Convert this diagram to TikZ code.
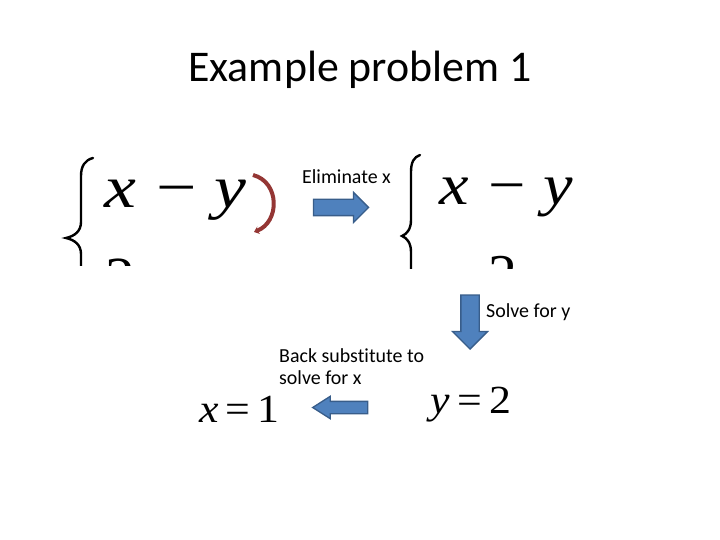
\documentclass[tikz,border=0pt]{standalone}
\usepackage{fontspec}
\setmainfont{Carlito}[Ligatures=NoCommon]
\newfontfamily\eqfont{Liberation Serif}
\usetikzlibrary{arrows.meta,shapes.arrows}
\definecolor{ArrBlue}{HTML}{4F81BD}
\definecolor{ArrEdge}{HTML}{385D8A}
\definecolor{ArcRed}{HTML}{943634}
\newcommand{\xminusy}{\textit{x}\hspace{17bp}−\hspace{15bp}\textit{y}}

\begin{document}
\begin{tikzpicture}[x=1bp,y=-1bp,
  every node/.style={inner sep=0pt},
  note/.style={font=\fontsize{20}{23}\selectfont, anchor=base west},
  eqn/.style={anchor=base west},
  blockarr/.style={single arrow, draw=ArrEdge, fill=ArrBlue, line width=1.3bp,
                   inner xsep=0pt},
  bracepath/.style={line width=2.4bp, line cap=round},
  arc/.style={-{Stealth[length=5bp,width=8bp]}, draw=ArcRed, line width=4bp},
]
\useasboundingbox (0,0) rectangle (720,540);

%% - Title -------------------------------------------------------------------
\node[font=\fontsize{44}{53}\selectfont, anchor=base] (title) at (360,82) {Example problem 1};

%% - First system (cut off) --------------------------------------------------
\begin{scope}
  \clip (50,140) rectangle (295,265);
  \draw[bracepath] (93,158) .. controls (85,160) and (81,166) .. (81,176)
    -- (81,222) .. controls (81,231) and (75,236) .. (66,238)
    .. controls (75,240) and (81,245) .. (81,254) -- (81,300);
  \node[eqn, font=\eqfont\fontsize{60}{70}\selectfont, xscale=1.2] (sysa) at (104,208) {\xminusy};
  \node[eqn, font=\eqfont\fontsize{60}{70}\selectfont] (sysarow) at (105,298) {2};
\end{scope}

%% - Red arc -----------------------------------------------------------------
\coordinate (arcs) at (253,175);
\coordinate (arce) at (254,232);
\draw[arc] (arcs) .. controls (280,182) and (280,222) .. (arce);

%% - Second system (cut off) -------------------------------------------------
\begin{scope}
  \clip (395,140) rectangle (600,268);
  \draw[bracepath] (420,155) .. controls (414,157) and (411,162) .. (411,172)
    -- (411,220) .. controls (411,229) and (407,234) .. (402,236)
    .. controls (407,238) and (411,243) .. (411,252) -- (411,300);
  \node[eqn, font=\eqfont\fontsize{58}{68}\selectfont, xscale=1.15] (sysb) at (439,205) {\xminusy};
  \node[eqn, font=\eqfont\fontsize{58}{68}\selectfont] (sysbrow) at (488,294) {2};
\end{scope}

%% - Solutions ---------------------------------------------------------------
\node[eqn, font=\eqfont\fontsize{40}{48}\selectfont, xscale=1.1] (xsol) at (199,422)
  {\textit{x}\,=\,1};
\node[eqn, font=\eqfont\fontsize{40}{48}\selectfont, xscale=1.1] (ysol) at (430,413)
  {\textit{y}\,=\,2};

%% - Block arrows ------------------------------------------------------------
\node[blockarr, inner ysep=7.5bp, single arrow head extend=7bp,
      minimum height=55bp] (rarr) at (337,207.5) {};
\node[blockarr, inner ysep=8.5bp, single arrow head extend=8.5bp,
      minimum height=54bp, rotate=-90] (darr) at (470,317.5) {};
\node[blockarr, inner ysep=5.5bp, single arrow head extend=5bp,
      single arrow tip angle=65, minimum height=55bp, rotate=180] (larr) at (345,407.5) {};

%% - Step labels -------------------------------------------------------------
\node[note] (elim) at (302,184) {Eliminate x};
\node[note] (solvey) at (486,317) {Solve for y};
\node[note, anchor=north west, align=left] (backsub) at (279,348)
  {Back substitute to\\solve for x};

\end{tikzpicture}
\end{document}
